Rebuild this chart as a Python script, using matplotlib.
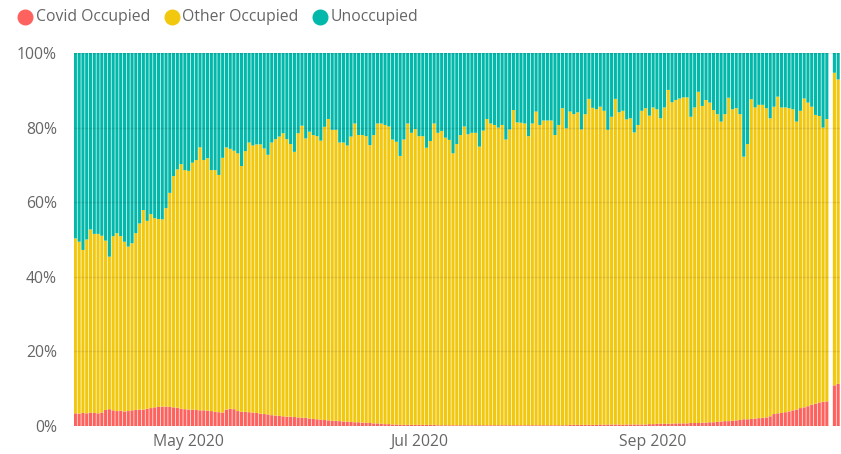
import matplotlib
matplotlib.use("Agg")
import matplotlib.pyplot as plt
import matplotlib.dates as mdates
from matplotlib.lines import Line2D
import numpy as np
import pandas as pd

# Daily bed occupancy shares (percent of all beds), 1 Apr - 20 Oct 2020, no report on 18 Oct
days = pd.date_range("2020-04-01", "2020-10-20")
days = days[days != pd.Timestamp("2020-10-18")]

covid_pct = [
    3.4, 3.3, 3.5, 3.4, 3.6, 3.5, 3.4, 3.6, 4.3, 4.5,
    4.2, 4.0, 4.1, 3.9, 4.0, 4.2, 4.3, 4.4, 4.4, 4.6,
    4.8, 5.0, 5.1, 5.2, 5.2, 5.1, 5.0, 4.9, 4.6, 4.5,
    4.4, 4.4, 4.3, 4.2, 4.2, 4.1, 4.0, 3.8, 3.7, 3.6,
    4.4, 4.6, 4.5, 4.0, 3.8, 3.8, 3.7, 3.6, 3.5, 3.3,
    3.2, 3.1, 2.9, 2.8, 2.7, 2.6, 2.5, 2.5, 2.4, 2.3,
    2.2, 2.2, 2.0, 1.9, 1.8, 1.7, 1.6, 1.5, 1.4, 1.4,
    1.3, 1.2, 1.2, 1.1, 1.0, 1.0, 0.9, 0.9, 0.8, 0.7,
    0.7, 0.6, 0.5, 0.5, 0.4, 0.4, 0.3, 0.3, 0.3, 0.3,
    0.3, 0.3, 0.3, 0.3, 0.3, 0.3, 0.2, 0.2, 0.2, 0.2,
    0.2, 0.2, 0.2, 0.2, 0.2, 0.2, 0.2, 0.2, 0.2, 0.2,
    0.2, 0.2, 0.2, 0.2, 0.2, 0.2, 0.2, 0.2, 0.2, 0.2,
    0.2, 0.2, 0.2, 0.2, 0.2, 0.2, 0.2, 0.2, 0.2, 0.2,
    0.2, 0.3, 0.3, 0.3, 0.3, 0.3, 0.3, 0.3, 0.3, 0.4,
    0.3, 0.4, 0.4, 0.4, 0.4, 0.3, 0.4, 0.4, 0.4, 0.4,
    0.4, 0.4, 0.5, 0.5, 0.6, 0.6, 0.6, 0.6, 0.6, 0.7,
    0.7, 0.7, 0.7, 0.8, 0.8, 0.8, 0.9, 0.9, 1.0, 1.0,
    1.1, 1.2, 1.3, 1.3, 1.4, 1.5, 1.6, 1.8, 1.8, 1.9,
    2.0, 2.1, 2.2, 2.3, 2.6, 3.2, 3.4, 3.5, 3.7, 3.9,
    4.2, 4.4, 4.8, 5.0, 5.3, 5.7, 6.0, 6.3, 6.5, 6.6,
    10.9, 11.3,
]

# all occupied beds (covid + other)
occupied_pct = [
    50.3, 49.4, 47.2, 50.0, 52.7, 51.5, 51.5, 51.0, 49.7, 45.4,
    50.9, 51.7, 50.9, 49.4, 48.1, 49.0, 51.7, 54.3, 57.9, 55.0,
    56.8, 55.7, 55.5, 55.4, 58.4, 62.5, 67.0, 68.8, 70.2, 68.6,
    68.4, 70.6, 71.3, 74.7, 71.3, 71.8, 68.6, 68.6, 67.3, 71.9,
    74.7, 74.3, 73.8, 73.1, 69.7, 73.7, 76.0, 75.2, 75.5, 75.5,
    74.4, 72.7, 76.0, 76.9, 77.6, 78.5, 76.9, 75.6, 73.5, 78.5,
    80.5, 77.1, 78.9, 78.0, 77.7, 76.5, 80.2, 82.3, 79.4, 79.4,
    76.0, 76.0, 75.2, 77.6, 81.1, 78.0, 78.0, 77.7, 75.3, 78.0,
    81.1, 81.1, 80.7, 80.3, 76.8, 76.2, 72.4, 76.8, 81.1, 78.6,
    79.6, 77.7, 77.7, 74.6, 76.4, 81.1, 78.6, 79.1, 77.3, 76.7,
    73.1, 75.6, 78.0, 80.3, 78.2, 78.6, 78.6, 74.9, 79.2, 82.3,
    81.1, 80.7, 80.0, 80.7, 76.8, 79.5, 84.7, 81.4, 81.3, 81.1,
    77.7, 81.1, 84.3, 80.7, 81.9, 81.9, 81.9, 78.0, 80.7, 85.2,
    79.8, 84.3, 83.6, 84.1, 79.5, 83.6, 87.7, 85.3, 84.9, 85.6,
    84.5, 79.4, 82.9, 87.7, 84.1, 84.5, 82.2, 82.5, 78.7, 80.7,
    84.5, 85.2, 83.2, 85.4, 84.9, 82.5, 85.4, 90.1, 86.8, 87.4,
    87.8, 88.1, 88.1, 82.9, 85.4, 89.6, 85.8, 87.4, 86.7, 84.7,
    83.6, 81.6, 83.6, 88.0, 84.9, 85.2, 83.6, 72.2, 75.6, 87.6,
    85.4, 86.1, 86.1, 85.2, 82.5, 85.6, 88.3, 85.4, 85.4, 85.2,
    84.9, 81.6, 84.5, 87.8, 86.7, 85.6, 83.4, 83.1, 80.0, 82.3,
    94.7, 92.9,
]

series_names = ["Covid Occupied", "Other Occupied", "Unoccupied"]
series_colors = ["#FD625E", "#F2C80F", "#01B8AA"]

covid = np.array(covid_pct)
other = np.array(occupied_pct) - covid
unocc = 100.0 - np.array(occupied_pct)

plt.rcParams["font.family"] = ["Open Sans", "DejaVu Sans"]
text_grey = "#666666"

fig = plt.figure(figsize=(8.41, 4.54), dpi=100, facecolor="white")
ax = fig.add_axes([0.0874, 0.0617, 0.9117, 0.8216])

x = mdates.date2num(days)
bar_w = 0.82
bottom = np.zeros(len(x))
for vals, name, col in zip([covid, other, unocc], series_names, series_colors):
    bars = ax.bar(x, vals, width=bar_w, bottom=bottom, color=col, linewidth=0,
                  label=name, zorder=2)
    # no pixel snapping, so the gaps between days blend softly
    for b in bars:
        b.set_snap(False)
    bottom += vals

ax.set_xlim(mdates.date2num(pd.Timestamp("2020-04-01")) - 0.5,
            mdates.date2num(pd.Timestamp("2020-10-20")) + 0.55)
ax.set_ylim(0, 100)

# y axis: percentage ticks, faint gridlines
ax.set_yticks(np.arange(0, 101, 20))
ax.set_yticklabels([f"{v}%" for v in range(0, 101, 20)])
ax.yaxis.grid(True, color="#000000", alpha=0.07, linewidth=1, zorder=3)
ax.set_axisbelow(False)

# x axis: month labels every two months
month_ticks = [pd.Timestamp("2020-05-01"), pd.Timestamp("2020-07-01"), pd.Timestamp("2020-09-01")]
ax.set_xticks(mdates.date2num(month_ticks))
ax.set_xticklabels([d.strftime("%b %Y") for d in month_ticks])

ax.tick_params(axis="both", length=0, labelsize=11.3, labelcolor=text_grey)
ax.tick_params(axis="y", pad=12)
ax.tick_params(axis="x", pad=6)
for s in ax.spines.values():
    s.set_visible(False)

# legend row across the top
legend_x = [25, 172, 320]
for px, name, col in zip(legend_x, series_names, series_colors):
    fx = px / 841
    fy = 1 - 17 / 454
    fig.add_artist(Line2D([fx], [fy], marker="o", markersize=10.5, color=col,
                          linestyle="none", transform=fig.transFigure))
    fig.text(fx + 10.5 / 841, fy, name, fontsize=11.3, color=text_grey,
             va="center", ha="left")

fig.savefig("out.png", dpi=100, facecolor="white")
